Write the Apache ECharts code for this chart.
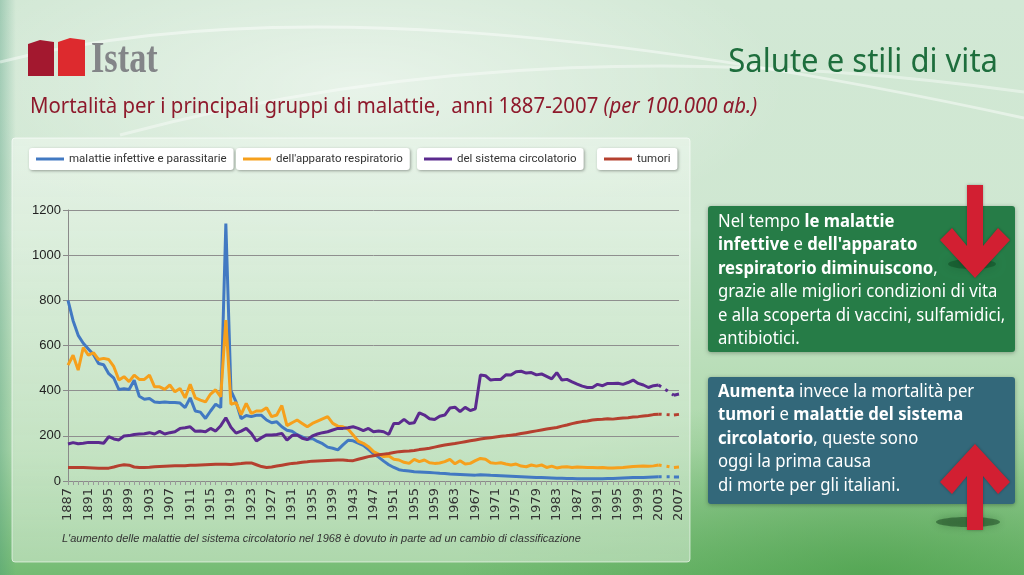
<!DOCTYPE html>
<html><head><meta charset="utf-8">
<script src="https://cdn.jsdelivr.net/npm/echarts@6/dist/echarts.min.js"></script>
<style>
html,body{margin:0;padding:0;}
#c{width:1024px;height:575px;
background:
 linear-gradient(90deg, rgba(70,150,120,0.35) 0px, rgba(70,150,120,0) 16px),
 radial-gradient(ellipse 60% 40% at 35% 15%, rgba(255,255,255,0.5), rgba(255,255,255,0) 70%),
 radial-gradient(ellipse 50% 40% at 85% 100%, rgba(60,150,60,0.55), rgba(60,150,60,0) 80%),
 linear-gradient(180deg, #d2e8d5 0%, #cfe7d1 40%, #acd8aa 78%, #74bb73 100%);}
</style></head>
<body><div id="c"></div>
<script>
// ---- data ----
var years = [];
for (var y = 1887; y <= 2007; y++) years.push(String(y));

var infettive = [800,710,645,610,585,560,520,515,475,455,405,408,405,446,375,362,365,350,348,350,
 348,348,345,325,368,310,305,277,310,340,325,1140,400,350,276,290,285,291,291,270,
 258,262,240,225,220,205,195,185,188,175,165,150,145,138,160,180,178,168,158,140,
 120,106,88,72,60,50,46,44,41,40,39,38,36,34,33,31,30,29,28,27,
 26,28,27,25,24,23,22,21,20,19,18,17,16,15,14,13,12,12,11,11,
 10,10,10,10,10,10,11,11,12,13,14,15,16,16,17,18,19,null,null,18,18];

var respiratorio = [513,557,491,591,557,568,538,543,538,506,447,462,440,469,450,450,469,417,417,406,
 425,395,410,368,428,368,358,350,385,404,373,712,340,347,294,344,299,310,310,324,
 285,292,334,245,258,270,255,240,255,265,275,285,255,243,240,230,204,176,167,152,
 130,119,108,111,96,93,83,78,96,86,93,81,78,80,86,96,76,90,75,78,
 90,100,96,81,78,81,75,71,75,66,63,71,66,71,60,66,58,62,63,60,
 62,61,60,60,59,60,58,58,59,60,62,64,65,66,65,67,71,null,null,60,62];

var circolatorio = [164,170,165,167,171,171,170,167,196,186,182,199,201,206,208,209,214,208,220,208,
 214,218,233,236,240,220,221,218,233,221,245,280,238,212,221,233,211,177,192,204,
 204,206,211,181,201,204,189,183,200,208,214,218,226,233,233,236,240,233,223,233,
 218,221,218,206,255,255,273,255,258,302,292,276,272,287,292,323,327,307,326,312,
 320,469,466,447,450,450,470,469,484,486,478,480,470,474,463,452,480,447,450,439,
 429,420,414,414,428,422,432,432,433,428,436,447,432,425,414,422,425,null,null,380,385];

var tumori = [60,60,60,60,59,58,57,56,57,62,68,72,70,62,60,60,61,63,64,65,
 66,67,67,68,70,70,71,72,73,74,74,74,73,75,77,80,80,72,64,60,
 62,66,70,74,78,80,83,85,88,89,90,91,92,93,93,91,90,96,102,108,
 112,116,119,122,126,130,132,133,135,139,142,145,150,155,159,163,166,170,174,178,
 182,186,189,192,195,198,200,203,206,210,214,218,222,226,230,234,237,243,248,254,
 259,263,266,270,272,273,276,274,277,279,280,283,285,288,290,294,296,null,null,292,295];

var seriesNames = ['malattie infettive e parassitarie','dell\'apparato respiratorio','del sistema circolatorio','tumori'];
var seriesColors = ['#4279c2','#f6a01c','#5b2a8e','#b5402f'];
var seriesData = [infettive, respiratorio, circolatorio, tumori];
var yTicks = {min:0, max:1200, interval:200};

// ---- chart ----
var chart = echarts.init(document.getElementById('c'), null, {renderer:'canvas'});
var LEG = "Roboto,'Noto Sans',sans-serif";
var MY = "'Noto Sans','Open Sans',sans-serif";

function gapLine(arr){
  var i3 = years.indexOf('2003'), i6 = years.indexOf('2006');
  return arr.map(function(v,i){ return (i===i3||i===i6) ? v : null; });
}

var series = [];
seriesNames.forEach(function(n,k){
  series.push({name:n, type:'line', data:seriesData[k], showSymbol:false, symbol:'none',
    lineStyle:{color:seriesColors[k], width:3}, itemStyle:{color:seriesColors[k]}, z:3+(k===2?1:0)});
  series.push({name:n+' ', type:'line', data:gapLine(seriesData[k]), connectNulls:true, showSymbol:false, symbol:'none',
    lineStyle:{color:seriesColors[k], width:3, type:[3,5]}, itemStyle:{color:seriesColors[k]}, z:3});
});

var legendLefts = [29, 236, 417, 597];
var legends = seriesNames.map(function(n,k){
  return {data:[n], left:legendLefts[k], top:148, itemWidth:28, itemHeight:3, itemGap:6, icon:'rect',
    padding:[5,7,5,7], backgroundColor:'#ffffff', borderRadius:3,
    shadowColor:'rgba(0,0,0,0.35)', shadowBlur:3, shadowOffsetX:1, shadowOffsetY:1,
    textStyle:{fontFamily:LEG, fontSize:11.5, color:'#333'}, selectedMode:false};
});

function rich(){
  return {
    n:{fontFamily:MY, fontSize:18, fill:'#ffffff', lineHeight:23.5},
    b:{fontFamily:MY, fontSize:18, fontWeight:'bold', fill:'#ffffff', lineHeight:23.5}
  };
}

var arrowDown = [[967,185],[983,185],[983,246],[998,228],[1010,240],[975,278],[940,240],[952,228],[967,246]];
var arrowUp = [[967,530],[983,530],[983,476],[998,494],[1010,482],[975,444],[940,482],[952,494],[967,476]];

chart.setOption({
  backgroundColor:'transparent',
  animation:false,
  grid:{left:68, right:345, top:210, bottom:94, containLabel:false},
  legend: legends,
  xAxis:{type:'category', data:years, boundaryGap:false,
    axisLine:{lineStyle:{color:'#8a8a8a'}},
    axisTick:{show:true, interval:0, length:4, lineStyle:{color:'#9a9a9a'}},
    axisLabel:{interval:3, rotate:90, fontSize:13, color:'#333', margin:7, fontFamily:"'DejaVu Sans',sans-serif"},
    splitLine:{show:false}},
  yAxis:{type:'value', min:yTicks.min, max:yTicks.max, interval:yTicks.interval,
    axisLine:{show:true, lineStyle:{color:'#8a8a8a'}},
    axisTick:{show:true, length:5, lineStyle:{color:'#8a8a8a'}},
    axisLabel:{fontSize:13, color:'#222', margin:7, fontFamily:"'Liberation Sans','DejaVu Sans',sans-serif",
      formatter:function(v){ return String(v); }},
    splitLine:{lineStyle:{color:'#8f8f8f', width:1}}},
  series: series,
  graphic:[
    // background swirls
    {type:'bezierCurve', z:-20, shape:{x1:0, y1:62, cpx1:260, cpy1:-5, cpx2:620, cpy2:30, x2:1024, y2:118},
      style:{stroke:'rgba(255,255,255,0.45)', lineWidth:3, fill:null}},
    {type:'bezierCurve', z:-20, shape:{x1:120, y1:135, cpx1:420, cpy1:55, cpx2:720, cpy2:50, x2:1024, y2:92},
      style:{stroke:'rgba(255,255,255,0.4)', lineWidth:3, fill:null}},
    // chart panel
    {type:'rect', z:-10, shape:{x:12, y:138, width:678, height:424, r:3},
      style:{fill:new echarts.graphic.LinearGradient(0,0,0,1,[{offset:0,color:'rgba(232,244,233,0.8)'},{offset:1,color:'rgba(196,226,194,0.7)'}]),
        stroke:'rgba(255,255,255,0.6)', lineWidth:1}},
    // logo
    {type:'polygon', z:5, shape:{points:[[28,44],[40,40],[54,42],[54,76],[28,76]]}, style:{fill:'#a3182f'}},
    {type:'polygon', z:5, shape:{points:[[58,42],[70,38],[85,40],[85,76],[58,76]]}, style:{fill:'#dd2a2e'}},
    {type:'text', z:5, x:91, y:83, scaleX:0.78, style:{text:'Istat', x:0, y:0, verticalAlign:'bottom',
      font:"bold 44px 'Liberation Serif','DejaVu Serif',serif", fill:'#838588'}},
    // header title
    {type:'text', z:5, x:998, y:63, scaleX:0.97, style:{text:'Salute e stili di vita', x:0, y:0, align:'right', verticalAlign:'middle',
      font:"32px "+MY, fill:'#1e6e3d'}},
    {type:'text', z:5, x:30, y:107, scaleX:0.926, style:{text:'{n|Mortalità per i principali gruppi di malattie,  anni 1887-2007 }{i|(per 100.000 ab.)}',
      x:0, y:0, verticalAlign:'middle',
      rich:{n:{fontFamily:MY, fontSize:22, fill:'#8e1a2c'}, i:{fontFamily:MY, fontSize:22, fontStyle:'italic', fill:'#8e1a2c'}}}},
    // footnote
    {type:'text', z:5, style:{text:"L'aumento delle malattie del sistema circolatorio nel 1968 è dovuto in parte ad un cambio di classificazione",
      x:62, y:539, verticalAlign:'middle', font:"italic 11px 'Liberation Sans',sans-serif", fill:'#333'}},
    // green box
    {type:'rect', z:5, shape:{x:708, y:206, width:307, height:146, r:3},
      style:{fill:'#267c47', shadowBlur:4, shadowColor:'rgba(0,0,0,0.3)', shadowOffsetY:1}},
    {type:'text', z:6, x:718, y:210, scaleX:0.927, style:{x:0, y:0, verticalAlign:'top', rich:rich(),
      text:'{n|Nel tempo }{b|le malattie}\n{b|infettive}{n| e }{b|dell\'apparato}\n{b|respiratorio diminuiscono}{n|,}\n{n|grazie alle migliori condizioni di vita}\n{n|e alla scoperta di vaccini, sulfamidici,}\n{n|antibiotici.}'}},
    // blue box
    {type:'rect', z:5, shape:{x:708, y:377, width:307, height:127, r:3},
      style:{fill:'#33687a', shadowBlur:4, shadowColor:'rgba(0,0,0,0.3)', shadowOffsetY:1}},
    {type:'text', z:6, x:718, y:380, scaleX:0.927, style:{x:0, y:0, verticalAlign:'top', rich:rich(),
      text:'{b|Aumenta}{n| invece la mortalità per}\n{b|tumori}{n| e }{b|malattie del sistema}\n{b|circolatorio}{n|, queste sono}\n{n|oggi la prima causa}\n{n|di morte per gli italiani.}'}},
    // arrow shadows
    {type:'ellipse', z:7, shape:{cx:972, cy:264, rx:24, ry:5}, style:{fill:'rgba(0,40,10,0.3)', shadowBlur:10, shadowColor:'rgba(0,40,10,0.5)'}},
    {type:'ellipse', z:7, shape:{cx:968, cy:522, rx:32, ry:5}, style:{fill:'rgba(10,50,20,0.45)', shadowBlur:8, shadowColor:'rgba(10,50,20,0.6)'}},
    // arrows
    {type:'polygon', z:8, shape:{points:arrowDown}, style:{fill:'#d21f32', shadowBlur:3, shadowColor:'rgba(0,0,0,0.3)'}},
    {type:'polygon', z:8, shape:{points:arrowUp}, style:{fill:'#d21f32', shadowBlur:3, shadowColor:'rgba(0,0,0,0.3)'}}
  ]
});
</script></body></html>
